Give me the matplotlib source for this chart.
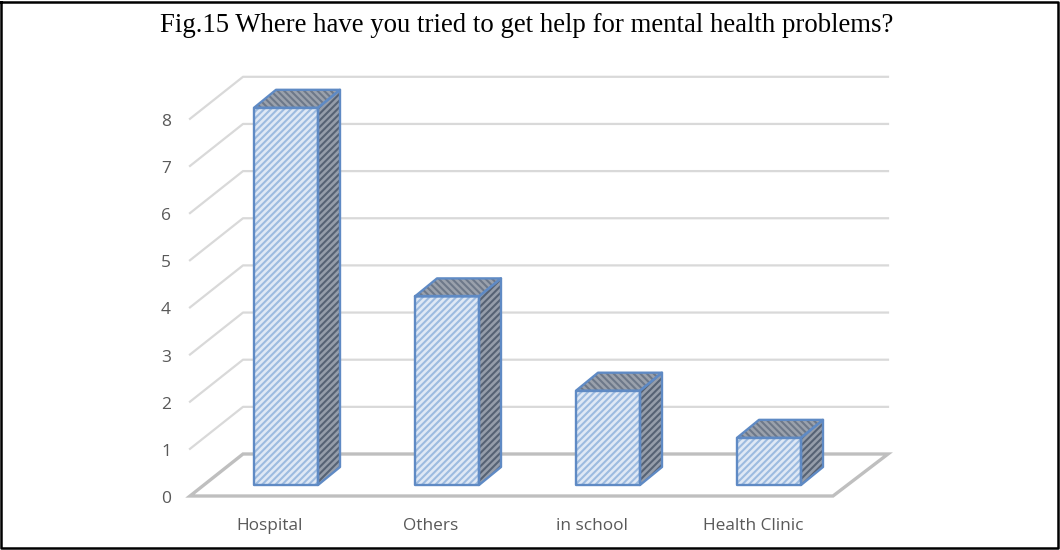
import matplotlib
matplotlib.use('Agg')
from matplotlib import pyplot as plt
from matplotlib.patches import Polygon

categories = ['Hospital', 'Others', 'in school', 'Health Clinic']
values = [8, 4, 2, 1]
y_ticks = [0, 1, 2, 3, 4, 5, 6, 7, 8]

title = 'Fig.15 Where have you tried to get help for mental health problems?'

# pixel layout of the 3d box
unit = 47.15
floor_y = 496
wall_dx, wall_dy = 53, -42
floor_left, floor_right = 190, 833
bar_left0, bar_step, bar_w = 254, 161, 64
bar_base = 485
depth_dx, depth_dy = 22, -18

plt.rcParams['hatch.linewidth'] = 1.5

fig = plt.figure(figsize=(10.6, 5.5), dpi=100)
ax = fig.add_axes([0, 0, 1, 1])
ax.set_xlim(0, 1060)
ax.set_ylim(550, 0)
ax.axis('off')

# outer frame
ax.plot([1, 1, 1058, 1058, 1], [1.5, 548, 548, 1.5, 1.5], color='black', lw=1.8, zorder=1)

grid = '#d9d9d9'
for t in y_ticks[1:]:
    y = floor_y - t * unit
    ax.plot([floor_left, floor_left + wall_dx, floor_right + wall_dx + 2],
            [y, y + wall_dy, y + wall_dy], color=grid, lw=1.6, zorder=1)

# floor
floor_col = '#bfbfbf'
ax.add_patch(Polygon([(floor_left, floor_y), (floor_left + wall_dx, floor_y + wall_dy),
                      (floor_right + wall_dx + 2, floor_y + wall_dy), (floor_right, floor_y)],
                     closed=True, fill=False, edgecolor=floor_col, lw=2.4, zorder=2))

for t in y_ticks:
    ax.text(166, floor_y - t * unit + 3, str(t), ha='center', va='center',
            fontsize=12.5, color='#595959', family='Open Sans')

edge = '#5f8ac4'
for i, (name, v) in enumerate(zip(categories, values)):
    x0 = bar_left0 + i * bar_step
    x1 = x0 + bar_w
    y0 = bar_base
    y1 = bar_base - v * unit
    front = [(x0, y0), (x1, y0), (x1, y1), (x0, y1)]
    top = [(x0, y1), (x1, y1), (x1 + depth_dx, y1 + depth_dy), (x0 + depth_dx, y1 + depth_dy)]
    side = [(x1, y0), (x1 + depth_dx, y0 + depth_dy), (x1 + depth_dx, y1 + depth_dy), (x1, y1)]
    ax.add_patch(Polygon(front, closed=True, facecolor='#dfe8f5', edgecolor='#9dbbe0',
                         hatch='/////', lw=0, zorder=3))
    ax.add_patch(Polygon(top, closed=True, facecolor='#9aa1ac', edgecolor='#6d7889',
                         hatch='\\\\\\\\\\', lw=0, zorder=3))
    ax.add_patch(Polygon(side, closed=True, facecolor='#959daa', edgecolor='#566274',
                         hatch='/////', lw=0, zorder=3))
    for poly in (front, top, side):
        ax.add_patch(Polygon(poly, closed=True, fill=False, edgecolor=edge, lw=1.7,
                             joinstyle='round', zorder=4))
    ax.text(270 + i * bar_step, 526, name, ha='center', va='center',
            fontsize=12.4, color='#595959', family='Open Sans')

ax.text(527, 26, title, ha='center', va='center', fontsize=19.3, color='black',
        family='Liberation Serif')

fig.savefig('out.png', dpi=100)
